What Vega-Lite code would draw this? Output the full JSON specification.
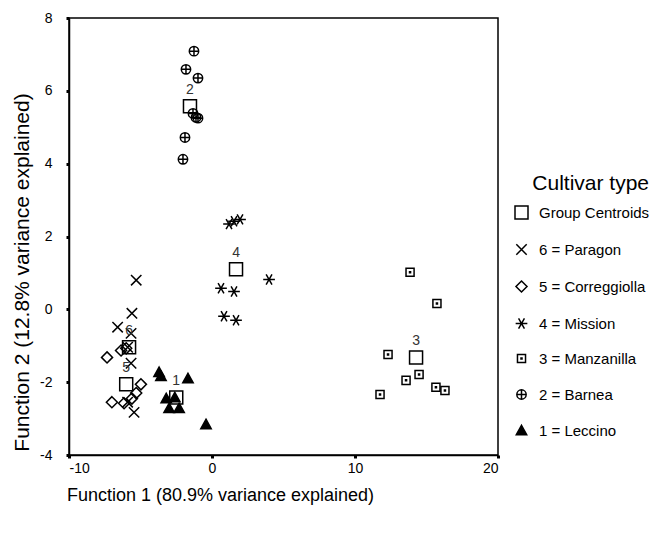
{
  "$schema": "https://vega.github.io/schema/vega-lite/v6.json",
  "width": 429,
  "height": 437,
  "autosize": "none",
  "padding": {"left": 69, "top": 18, "right": 157, "bottom": 78},
  "background": "white",
  "config": {
    "font": "Liberation Sans",
    "view": {"stroke": "black", "strokeWidth": 1.5},
    "axis": {"grid": false, "domainColor": "black", "domainWidth": 1.5, "tickColor": "black", "labelColor": "black", "titleColor": "black", "labelFontSize": 14, "titleFontSize": 21, "titleFontWeight": "normal", "tickSize": 3, "tickWidth": 3},
    "legend": {"titleFontWeight": "normal", "titleFontSize": 21, "titleColor": "black", "labelFontSize": 15, "labelColor": "black"}
  },
  "data": {"values": [
    {"series": "Group Centroids", "x": -2.5, "y": -2.42, "label": "1"},
    {"series": "Group Centroids", "x": -1.54, "y": 5.58, "label": "2"},
    {"series": "Group Centroids", "x": 14.27, "y": -1.32, "label": "3"},
    {"series": "Group Centroids", "x": 1.68, "y": 1.1, "label": "4"},
    {"series": "Group Centroids", "x": -6.0, "y": -2.06, "label": "5"},
    {"series": "Group Centroids", "x": -5.8, "y": -1.04, "label": "6"},
    {"series": "6 = Paragon", "x": -5.3, "y": 0.8},
    {"series": "6 = Paragon", "x": -5.6, "y": -0.11},
    {"series": "6 = Paragon", "x": -6.6, "y": -0.49},
    {"series": "6 = Paragon", "x": -5.66, "y": -0.66},
    {"series": "6 = Paragon", "x": -5.9, "y": -1.04},
    {"series": "6 = Paragon", "x": -5.66, "y": -1.48},
    {"series": "6 = Paragon", "x": -5.45, "y": -2.83},
    {"series": "6 = Paragon", "x": -5.9, "y": -2.55},
    {"series": "5 = Correggiolla", "x": -7.34, "y": -1.32},
    {"series": "5 = Correggiolla", "x": -6.36, "y": -1.13},
    {"series": "5 = Correggiolla", "x": -6.0, "y": -1.07},
    {"series": "5 = Correggiolla", "x": -4.97, "y": -2.06},
    {"series": "5 = Correggiolla", "x": -5.3, "y": -2.3},
    {"series": "5 = Correggiolla", "x": -5.6, "y": -2.45},
    {"series": "5 = Correggiolla", "x": -7.0, "y": -2.55},
    {"series": "5 = Correggiolla", "x": -6.15, "y": -2.58},
    {"series": "4 = Mission", "x": 1.19, "y": 2.34},
    {"series": "4 = Mission", "x": 1.54, "y": 2.42},
    {"series": "4 = Mission", "x": 1.96, "y": 2.47},
    {"series": "4 = Mission", "x": 3.99, "y": 0.82},
    {"series": "4 = Mission", "x": 0.63, "y": 0.58},
    {"series": "4 = Mission", "x": 1.54, "y": 0.49},
    {"series": "4 = Mission", "x": 0.84, "y": -0.19},
    {"series": "4 = Mission", "x": 1.68, "y": -0.3},
    {"series": "3 = Manzanilla", "x": 13.85, "y": 1.02},
    {"series": "3 = Manzanilla", "x": 15.73, "y": 0.16},
    {"series": "3 = Manzanilla", "x": 12.31, "y": -1.24},
    {"series": "3 = Manzanilla", "x": 14.48, "y": -1.79},
    {"series": "3 = Manzanilla", "x": 13.57, "y": -1.95},
    {"series": "3 = Manzanilla", "x": 15.66, "y": -2.14},
    {"series": "3 = Manzanilla", "x": 16.29, "y": -2.23},
    {"series": "3 = Manzanilla", "x": 11.75, "y": -2.34},
    {"series": "2 = Barnea", "x": -1.26, "y": 7.09},
    {"series": "2 = Barnea", "x": -1.82, "y": 6.59},
    {"series": "2 = Barnea", "x": -0.98, "y": 6.35},
    {"series": "2 = Barnea", "x": -1.33, "y": 5.38},
    {"series": "2 = Barnea", "x": -1.12, "y": 5.27},
    {"series": "2 = Barnea", "x": -0.98, "y": 5.25},
    {"series": "2 = Barnea", "x": -1.89, "y": 4.72},
    {"series": "2 = Barnea", "x": -2.03, "y": 4.12},
    {"series": "1 = Leccino", "x": -3.7, "y": -1.73},
    {"series": "1 = Leccino", "x": -3.57, "y": -1.84},
    {"series": "1 = Leccino", "x": -1.68, "y": -1.9},
    {"series": "1 = Leccino", "x": -3.2, "y": -2.45},
    {"series": "1 = Leccino", "x": -2.6, "y": -2.42},
    {"series": "1 = Leccino", "x": -3.0, "y": -2.72},
    {"series": "1 = Leccino", "x": -2.3, "y": -2.72},
    {"series": "1 = Leccino", "x": -0.42, "y": -3.16}
  ]},
  "encoding": {
    "x": {"field": "x", "type": "quantitative", "scale": {"domain": [-10, 20], "nice": false, "zero": false},
      "axis": {"values": [-10, 0, 10, 20], "labelExpr": "replace(datum.label, '−', '-')", "title": "Function 1 (80.9% variance explained)", "titleFontSize": 18, "labelPadding": 3, "titleX": 151, "titleY": 40, "titleAlign": "center", "titleBaseline": "middle"}},
    "y": {"field": "y", "type": "quantitative", "scale": {"domain": [-4, 8], "nice": false, "zero": false},
      "axis": {"values": [-4, -2, 0, 2, 4, 6, 8], "labelExpr": "replace(datum.label, '−', '-')", "title": "Function 2 (12.8% variance explained)", "labelPadding": 14, "titleX": -47, "titleY": 254, "titleAlign": "center", "titleBaseline": "middle"}}
  },
  "layer": [
    {
      "mark": {"type": "point", "filled": true, "size": 169, "stroke": "black", "strokeWidth": 1.5, "opacity": 1},
      "encoding": {
        "shape": {"field": "series", "type": "nominal", "title": "Cultivar type",
          "scale": {"domain": ["Group Centroids", "6 = Paragon", "5 = Correggiolla", "4 = Mission", "3 = Manzanilla", "2 = Barnea", "1 = Leccino"],
            "range": [
              "M-1,-1H1V1H-1Z",
              "M-0.8,-0.8L0.8,0.8M-0.8,0.8L0.8,-0.8",
              "M0,-0.85L0.85,0L0,0.85L-0.85,0Z",
              "M-0.9,0L0.9,0M-0.45,-0.78L0.45,0.78M-0.45,0.78L0.45,-0.78",
              "M-0.62,-0.62H0.62V0.62H-0.62ZM-0.08,-0.08H0.08V0.08H-0.08Z",
              "M-0.72,0A0.72,0.72 0 1,0 0.72,0A0.72,0.72 0 1,0 -0.72,0ZM-0.72,0L0.72,0M0,-0.72L0,0.72",
              "M0,-0.8L0.8,0.65L-0.8,0.65Z"
            ]},
          "legend": {"orient": "none", "legendX": 445, "legendY": 155, "titleAnchor": "end", "titlePadding": 11, "rowPadding": 19, "symbolSize": 169, "labelOffset": 10,
            "encode": {"symbols": {"update": {"stroke": {"value": "black"}, "strokeWidth": {"value": 1.5}}}}}},
        "fill": {"field": "series", "type": "nominal", "title": "Cultivar type",
          "scale": {"domain": ["Group Centroids", "6 = Paragon", "5 = Correggiolla", "4 = Mission", "3 = Manzanilla", "2 = Barnea", "1 = Leccino"],
            "range": ["transparent", "transparent", "transparent", "transparent", "transparent", "transparent", "black"]}}
      }
    },
    {
      "transform": [{"filter": "datum.series === 'Group Centroids'"}],
      "mark": {"type": "text", "dy": -16, "fontSize": 14, "color": "#333333"},
      "encoding": {"text": {"field": "label", "type": "nominal"}}
    }
  ]
}
